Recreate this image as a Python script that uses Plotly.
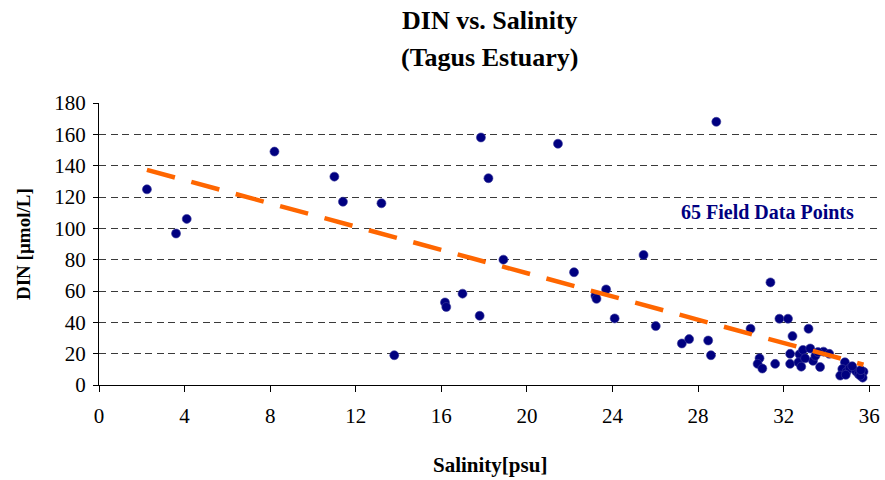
import numpy as np
import plotly.graph_objects as go

salinity = [2.24, 3.6, 4.1, 8.2, 11.0, 11.4, 13.2, 13.8, 16.17, 16.23,
            16.99, 17.79, 17.85, 18.2, 18.9, 21.45, 22.2, 23.2, 23.25, 23.7,
            24.1, 25.45, 26.02, 27.24, 27.58, 28.47, 28.6, 28.85, 30.45, 30.87,
            30.78, 31.0, 31.38, 31.6, 31.8, 32.2, 32.41, 33.16, 32.3, 32.3,
            32.74, 32.69, 32.82, 32.9, 33.24, 33.37, 33.48, 33.7, 33.86, 34.13,
            34.86, 34.74, 34.64, 34.94, 35.08, 35.38, 35.5, 35.73, 35.69, 35.58,
            33.0, 35.2, 34.9, 35.6, 33.6]
din = [124.9, 96.7, 106, 149, 133, 117, 116, 19, 52.7, 49.8,
       58.3, 44.2, 158, 132, 80, 154, 72, 57, 55, 61,
       42.5, 83, 37.6, 26.5, 29.3, 28.4, 19, 168, 35.9, 17.1,
       13.5, 10.5, 65.5, 13.5, 42.3, 42.3, 31.2, 35.9, 19.9, 13.5,
       19.6, 14.5, 11.7, 22.4, 23.3, 15.4, 18.6, 11.5, 21.3, 19.9,
       14.5, 10.2, 6.0, 8.5, 10.7, 8.8, 7.0, 8.5, 4.7, 6.0,
       17, 12, 6.5, 9.5, 21]

x_ticks = [0, 4, 8, 12, 16, 20, 24, 28, 32, 36]
y_ticks = [0, 20, 40, 60, 80, 100, 120, 140, 160, 180]

# Linear trendline fitted to the data
slope, intercept = np.polyfit(salinity, din, 1)
tx = np.array([min(salinity), max(salinity)])
ty = slope * tx + intercept

FONT = "Liberation Serif, Times New Roman, serif"

W, H = 885, 480
ML, MR, MT, MB = 99, 5, 103, 95
PW, PH = W - ML - MR, H - MT - MB


def px(xp):
    return (xp - ML) / PW


def py(yp):
    return (H - MB - yp) / PH


fig = go.Figure()
fig.add_trace(go.Scatter(
    x=salinity, y=din, mode="markers",
    marker=dict(color="#000080", size=9, line=dict(color="#3a3a9a", width=0.6)),
    showlegend=False, cliponaxis=False))
fig.add_trace(go.Scatter(
    x=tx, y=ty, mode="lines",
    line=dict(color="#FF6600", width=4.5, dash="29px,17px"),
    showlegend=False))

fig.update_layout(
    width=W, height=H,
    margin=dict(l=ML, r=MR, t=MT, b=MB, autoexpand=False),
    paper_bgcolor="white", plot_bgcolor="white",
    font=dict(family=FONT, color="black", size=21),
    xaxis=dict(range=[0, 36.5], tickvals=x_ticks, ticktext=[str(v) for v in x_ticks],
               showgrid=False, zeroline=False, showline=True, linecolor="black", linewidth=1,
               ticks="outside", ticklen=6, tickcolor="black", ticklabelstandoff=6,
               tickfont=dict(size=21), automargin=False),
    yaxis=dict(range=[0, 180], tickvals=y_ticks, ticktext=[str(v) for v in y_ticks],
               showgrid=True, gridcolor="#3a3a3a", griddash="7px,4.5px", gridwidth=1.2,
               zeroline=False, showline=True, linecolor="black", linewidth=1,
               ticks="outside", ticklen=5, tickcolor="black", ticklabelstandoff=3,
               tickfont=dict(size=21), automargin=False),
    annotations=[
        dict(text="<b>DIN vs. Salinity</b>", x=0.5, y=py(21), xref="paper", yref="paper",
             xanchor="center", yanchor="middle", showarrow=False, font=dict(size=26)),
        dict(text="<b>(Tagus Estuary)</b>", x=0.5, y=py(57), xref="paper", yref="paper",
             xanchor="center", yanchor="middle", showarrow=False, font=dict(size=26)),
        dict(text="<b>Salinity[psu]</b>", x=0.5, y=py(465), xref="paper", yref="paper",
             xanchor="center", yanchor="middle", showarrow=False, font=dict(size=21)),
        dict(text="<b>DIN [µmol/L]</b>", x=px(23), y=py(244), xref="paper", yref="paper",
             xanchor="center", yanchor="middle", textangle=-90, showarrow=False,
             font=dict(size=19)),
        dict(text="<b>65 Field Data Points</b>", x=31.25, y=110.5, xref="x", yref="y",
             xanchor="center", yanchor="middle",
             showarrow=False, font=dict(size=20, color="#000080")),
    ],
)

fig.write_html("out.html", config={"displayModeBar": False},
               post_script="document.body.style.margin='0';document.body.style.overflow='hidden';")
